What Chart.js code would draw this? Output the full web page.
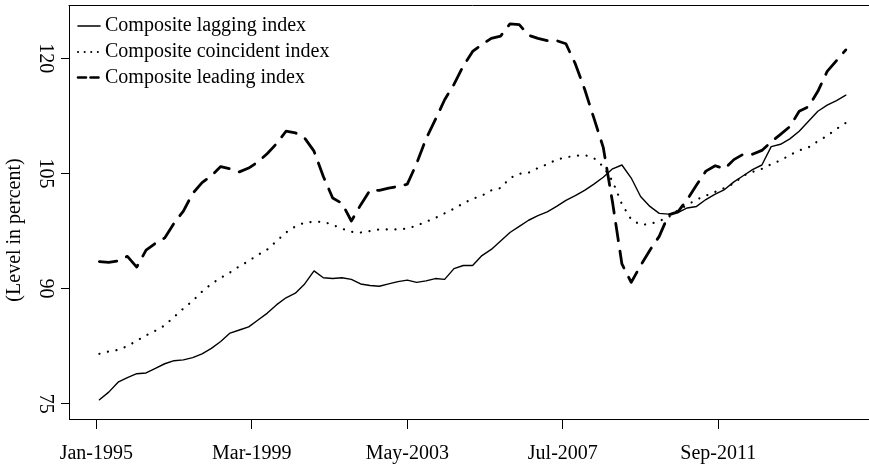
<!DOCTYPE html>
<html>
<head>
<meta charset="utf-8">
<script src="https://cdn.jsdelivr.net/npm/chart.js@4.4.1/dist/chart.umd.min.js"></script>
<style>
  html, body { margin: 0; padding: 0; background: #fff; overflow: hidden; }
  #wrap { width: 869px; height: 464px; overflow: hidden; }
</style>
</head>
<body>
<div id="wrap"><canvas id="c" width="890" height="464"></canvas></div>
<script>
// month index counted from Jan-1995 (0)
const months = [1,4,7,10,13,16,19,22,25,28,31,34,37,40,43,46,49,52,55,58,61,64,67,70,73,76,79,82,85,88,91,94,97,100,103,106,109,112,115,118,121,124,127,130,133,136,139,142,145,148,151,154,157,160,163,166,169,172,175,178,181,184,187,190,193,196,199,202,205,208,211,214,217,220,223,226,229,232,235,238,241];

const laggingIndex = [75.5,76.5,77.8,78.4,78.9,79.0,79.6,80.2,80.6,80.7,81.0,81.5,82.2,83.1,84.2,84.6,85.0,85.9,86.8,87.9,88.8,89.4,90.6,92.3,91.4,91.3,91.4,91.2,90.6,90.4,90.3,90.6,90.9,91.1,90.8,91.0,91.3,91.2,92.6,93.0,93.0,94.3,95.1,96.2,97.3,98.1,98.9,99.5,100.0,100.7,101.5,102.1,102.8,103.6,104.5,105.6,106.1,104.4,102.0,100.7,99.8,99.7,99.9,100.5,100.7,101.6,102.3,102.9,103.9,104.7,105.5,106.1,108.5,108.8,109.5,110.5,111.8,113.1,113.9,114.5,115.2];

const coincidentIndex = [81.5,81.8,82.0,82.5,83.2,83.9,84.5,85.2,86.3,87.4,88.4,89.6,90.6,91.4,92.1,92.9,93.6,94.4,95.1,96.2,97.3,98.1,98.6,98.7,98.7,98.3,97.8,97.4,97.3,97.5,97.7,97.7,97.7,97.8,98.2,98.7,99.2,99.8,100.4,101.1,101.7,102.1,102.8,103.1,104.4,104.95,105.1,105.7,106.2,106.8,107.1,107.3,107.4,107.0,105.9,104.0,101.0,99.0,98.3,98.4,98.8,99.3,100.2,100.9,101.6,102.1,102.6,103.1,103.7,104.7,105.2,105.6,106.2,106.7,107.4,108.0,108.4,109.2,109.9,110.8,111.6];

const leadingIndex = [93.5,93.4,93.6,94.2,92.8,95.0,95.9,96.6,98.5,100.1,102.4,103.8,104.7,105.9,105.6,105.2,105.7,106.5,107.6,108.9,110.5,110.3,109.6,107.9,104.6,101.8,101.1,98.8,100.9,102.8,102.8,103.1,103.3,103.6,106.3,109.5,112.0,114.6,116.6,119.0,120.9,121.8,122.6,122.9,124.5,124.4,123.0,122.6,122.3,122.3,121.9,119.3,116.0,112.2,108.4,101.2,93.2,90.8,93.0,95.0,96.8,99.6,100.0,101.6,103.5,105.3,106.0,105.6,106.8,107.5,107.5,108.0,109.1,110.1,111.1,113.1,113.7,115.7,118.3,119.7,121.1];

const seriesLabels = ['Composite lagging index', 'Composite coincident index', 'Composite leading index'];
const xTickMonths = [0, 50, 100, 150, 200];
const xTickLabels = ['Jan-1995', 'Mar-1999', 'May-2003', 'Jul-2007', 'Sep-2011'];
const yTickValues = [75, 90, 105, 120];
const yAxisTitle = '(Level in percent)';

const FONT = { family: '"Liberation Serif", "Times New Roman", serif', size: 20 };
const FONT_CSS = FONT.size + 'px ' + FONT.family;

function pts(vals) { return vals.map((v, i) => ({ x: months[i], y: v })); }

const styles = [
  { borderWidth: 1.4, borderDash: [], cap: 'round', legendDash: [], legendWidth: 1.6 },
  { borderWidth: 2.2, borderDash: [0.1, 8.6], cap: 'round', legendDash: [0.1, 6.5], legendWidth: 2.0 },
  { borderWidth: 2.8, borderDash: [17.5, 10.5], cap: 'round', legendDash: [8, 4.5], legendWidth: 2.6 }
];

const decorPlugin = {
  id: 'rDecor',
  afterDraw(chart) {
    const ctx = chart.ctx;
    const ca = chart.chartArea;
    const x0 = ca.left + 9, x1 = ca.left + 31, tx = ca.left + 36;
    const rows = [26, 52, 77.5];
    ctx.save();
    // legend (top-left, no frame)
    chart.data.datasets.forEach((ds, i) => {
      const y = rows[i];
      ctx.beginPath();
      ctx.setLineDash(styles[i].legendDash);
      ctx.lineCap = styles[i].cap;
      ctx.lineWidth = styles[i].legendWidth;
      ctx.strokeStyle = '#000';
      ctx.moveTo(x0, y); ctx.lineTo(x1, y);
      ctx.stroke();
      ctx.setLineDash([]);
      ctx.fillStyle = '#000';
      ctx.font = FONT_CSS;
      ctx.textBaseline = 'middle';
      ctx.textAlign = 'left';
      ctx.fillText(ds.label, tx, y);
    });
    // top edge of the plot box
    ctx.beginPath();
    ctx.lineWidth = 1;
    ctx.strokeStyle = '#000';
    ctx.moveTo(ca.left, Math.round(ca.top) + 0.5);
    ctx.lineTo(ca.right, Math.round(ca.top) + 0.5);
    ctx.stroke();
    // y axis title
    ctx.translate(15, (ca.top + ca.bottom) / 2 + 18);
    ctx.rotate(-Math.PI / 2);
    ctx.font = FONT_CSS;
    ctx.fillStyle = '#000';
    ctx.textAlign = 'center';
    ctx.textBaseline = 'middle';
    ctx.fillText(yAxisTitle, 0, 0);
    ctx.restore();
  }
};

new Chart(document.getElementById('c'), {
  type: 'line',
  data: {
    datasets: [laggingIndex, coincidentIndex, leadingIndex].map((vals, i) => ({
      label: seriesLabels[i],
      data: pts(vals),
      borderColor: '#000',
      backgroundColor: '#000',
      borderWidth: styles[i].borderWidth,
      borderDash: styles[i].borderDash,
      borderCapStyle: styles[i].cap,
      borderJoinStyle: 'round',
      pointRadius: 0,
      tension: 0,
      fill: false
    }))
  },
  options: {
    responsive: false,
    animation: false,
    devicePixelRatio: 1,
    layout: { padding: { top: 5, right: 14, left: 0, bottom: 0 } },
    plugins: { legend: { display: false }, tooltip: { enabled: false } },
    scales: {
      x: {
        type: 'linear',
        min: -8.78,
        max: 250.7,
        afterBuildTicks(s) { s.ticks = xTickMonths.map(v => ({ value: v })); },
        afterFit(s) { s.height = 45; s.paddingLeft = 0; s.paddingRight = 0; },
        grid: { display: true, drawOnChartArea: false, drawTicks: true, tickLength: 10, color: '#000', lineWidth: 1 },
        border: { display: true, color: '#000', width: 1 },
        ticks: {
          font: FONT, color: '#000', padding: 13, maxRotation: 0, autoSkip: false,
          callback(v) { const k = xTickMonths.indexOf(v); return k >= 0 ? xTickLabels[k] : ''; }
        }
      },
      y: {
        type: 'linear',
        min: 73.0,
        max: 126.95,
        afterBuildTicks(s) { s.ticks = yTickValues.map(v => ({ value: v })); },
        afterFit(s) { s.width = 69; s.paddingTop = 0; s.paddingBottom = 0; },
        grid: { display: true, drawOnChartArea: false, drawTicks: true, tickLength: 8, color: '#000', lineWidth: 1 },
        border: { display: true, color: '#000', width: 1 },
        ticks: {
          font: FONT, color: '#000', padding: 1, minRotation: -90, maxRotation: -90,
          crossAlign: 'center', autoSkip: false,
          callback(v) { return String(v); }
        }
      }
    }
  },
  plugins: [decorPlugin]
});
</script>
</body>
</html>
